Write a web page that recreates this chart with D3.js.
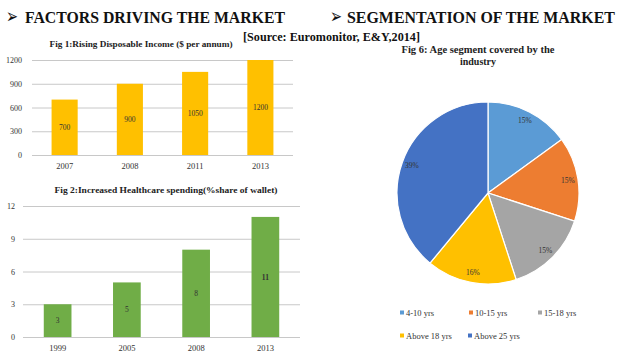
<!DOCTYPE html>
<html>
<head>
<meta charset="utf-8">
<script src="https://cdn.jsdelivr.net/npm/d3@7"></script>
<style>
  body { margin: 0; background: #fff; }
  svg { display: block; }
</style>
</head>
<body>
<svg class="chart" width="638" height="359"></svg>
<script>
// Fig 1 data
var incomeYears = ["2007", "2008", "2011", "2013"];
var incomeValues = [700, 900, 1050, 1200];
var incomeTicks = [0, 300, 600, 900, 1200];

// Fig 2 data
var healthYears = ["1999", "2005", "2008", "2013"];
var healthValues = [3, 5, 8, 11];
var healthTicks = [0, 3, 6, 9, 12];

// Fig 6 data
var ageSegments = ["4-10 yrs", "10-15 yrs", "15-18 yrs", "Above 18 yrs", "Above 25 yrs"];
var ageShares = [15, 15, 15, 16, 39];
var ageColors = ["#5B9BD5", "#ED7D31", "#A5A5A5", "#FFC000", "#4472C4"];

const SERIF = "'Liberation Serif', 'Times New Roman', serif";

var chart = d3.select(".chart");

// squeeze a text to the width it has in the picture
function fitText(sel, w) {
   return sel.attr("textLength", w).attr("lengthAdjust", "spacingAndGlyphs");
}

// Headers
function header(ax, tx, w, label) {
   fitText(chart.append("text")
        .attr("x", ax).attr("y", 22.5)
        .attr("font-family", "DejaVu Sans").attr("font-size", "20px")
        .attr("fill", "#111")
        .text("\u27A2"), 12);
   fitText(chart.append("text")
        .attr("x", tx).attr("y", 23)
        .attr("font-family", SERIF).attr("font-size", "17px").attr("font-weight", "bold")
        .attr("fill", "#111")
        .text(label), w);
}
header(6, 25, 260, "FACTORS DRIVING THE MARKET");
header(330, 347, 268, "SEGMENTATION OF THE MARKET");

fitText(chart.append("text")
     .attr("x", 243).attr("y", 41)
     .attr("font-family", SERIF).attr("font-size", "11.5px").attr("font-weight", "bold")
     .attr("fill", "#111")
     .text("[Source: Euromonitor, E&Y,2014]"), 177);

function drawBars(opts) {
   var g = chart.append("g");
   var x = d3.scaleBand().domain(opts.cats).range([opts.x0, opts.x1]).paddingInner(0.6).paddingOuter(0.3);
   var y = d3.scaleLinear().domain([0, opts.max]).range([opts.y0, opts.y1]);

   fitText(g.append("text")
    .attr("x", opts.titleX).attr("y", opts.titleY)
    .attr("text-anchor", "middle")
    .attr("font-family", SERIF).attr("font-size", "9px").attr("font-weight", "bold")
    .attr("fill", "#222")
    .text(opts.title), opts.titleW);

   var axis = d3.axisLeft(y).tickValues(opts.ticks).tickFormat(d3.format("d"))
                .tickSize(-(opts.x1 - opts.x0)).tickPadding(opts.tickPad);
   var ax = g.append("g").attr("transform", "translate(" + opts.x0 + ",0)").call(axis);
   ax.select(".domain").remove();
   ax.selectAll(".tick line").attr("stroke", "#c8c8c8").attr("stroke-width", 1);
   ax.selectAll(".tick text").attr("font-family", SERIF).attr("font-size", "8px").attr("fill", "#333");

   g.selectAll("rect.bar")
    .data(opts.values)
    .enter().append("rect")
    .attr("class", "bar")
    .attr("x", function(d, i) { return x(opts.cats[i]); })
    .attr("width", x.bandwidth())
    .attr("y", function(d) { return y(d); })
    .attr("height", function(d) { return y(0) - y(d); })
    .attr("fill", opts.color);

   g.selectAll("text.val")
    .data(opts.values)
    .enter().append("text")
    .attr("class", "val")
    .attr("x", function(d, i) { return x(opts.cats[i]) + x.bandwidth() / 2; })
    .attr("y", function(d) { return (y(d) + y(0)) / 2; })
    .attr("dy", ".35em")
    .attr("text-anchor", "middle")
    .attr("font-family", SERIF).attr("font-size", "7.5px")
    .attr("font-weight", function(d, i) { return opts.boldLast && i == opts.values.length - 1 ? "bold" : "normal"; })
    .attr("fill", "#333")
    .text(function(d) { return d; });

   g.selectAll("text.cat")
    .data(opts.cats)
    .enter().append("text")
    .attr("class", "cat")
    .attr("x", function(d) { return x(d) + x.bandwidth() / 2; })
    .attr("y", opts.y0 + 14)
    .attr("text-anchor", "middle")
    .attr("font-family", SERIF).attr("font-size", "8.5px")
    .attr("fill", "#333")
    .text(function(d) { return d; });
}

drawBars({
   cats: incomeYears, values: incomeValues, ticks: incomeTicks, max: 1200,
   x0: 32, x1: 293, y0: 155, y1: 60, tickPad: 10,
   color: "#FFC000", title: "Fig 1:Rising Disposable Income ($ per annum)",
   titleX: 141, titleY: 47, titleW: 183
});

drawBars({
   cats: healthYears, values: healthValues, ticks: healthTicks, max: 12,
   x0: 23, x1: 300, y0: 337, y1: 206, tickPad: 8,
   color: "#70AD47", title: "Fig 2:Increased  Healthcare spending(%share of   wallet)",
   titleX: 166, titleY: 193, titleW: 223, boldLast: true
});

// Fig 6 pie
var cx = 488, cy = 193, R = 91;
fitText(chart.append("text")
     .attr("x", 478).attr("y", 53)
     .attr("text-anchor", "middle")
     .attr("font-family", SERIF).attr("font-size", "10px").attr("font-weight", "bold")
     .attr("fill", "#222")
     .text("Fig 6: Age segment covered by the"), 153);
chart.append("text")
     .attr("x", 478).attr("y", 65)
     .attr("text-anchor", "middle")
     .attr("font-family", SERIF).attr("font-size", "10px").attr("font-weight", "bold")
     .attr("fill", "#222")
     .text("industry");

var pie = d3.pie().sort(null).value(function(d) { return d; });
var arcs = pie(ageShares);
var arc = d3.arc().innerRadius(0).outerRadius(R);
var labelArc = d3.arc().innerRadius(R * 0.89).outerRadius(R * 0.89);
var pg = chart.append("g").attr("transform", "translate(" + cx + "," + cy + ")");
pg.selectAll("path")
  .data(arcs)
  .enter().append("path")
  .attr("d", arc)
  .attr("fill", function(d, i) { return ageColors[i]; })
  .attr("stroke", "#fff")
  .attr("stroke-width", 1.2);
pg.selectAll("text")
  .data(arcs)
  .enter().append("text")
  .attr("transform", function(d) { return "translate(" + labelArc.centroid(d) + ")"; })
  .attr("dy", ".35em")
  .attr("text-anchor", "middle")
  .attr("font-family", SERIF).attr("font-size", "7.5px")
  .attr("fill", "#333")
  .text(function(d) { return d.data + "%"; });

// Legend
var legendPos = [[400, 313], [469, 313], [538, 313], [400, 336], [468, 336]];
var lg = chart.append("g");
var item = lg.selectAll("g")
             .data(ageSegments)
             .enter().append("g")
             .attr("transform", function(d, i) { return "translate(" + legendPos[i][0] + "," + legendPos[i][1] + ")"; });
item.append("rect")
    .attr("x", 0).attr("y", -2.5).attr("width", 4).attr("height", 4)
    .attr("fill", function(d, i) { return ageColors[i]; });
item.append("text")
    .attr("x", 6).attr("y", 0)
    .attr("dy", ".35em")
    .attr("font-family", SERIF).attr("font-size", "8.5px")
    .attr("fill", "#333")
    .text(function(d) { return d; });
</script>
</body>
</html>
